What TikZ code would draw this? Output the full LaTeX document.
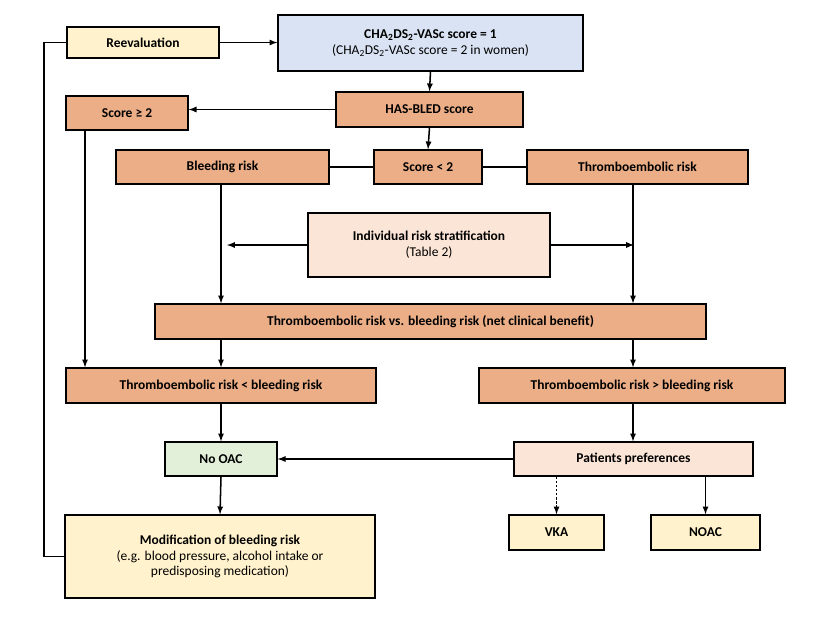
\documentclass[tikz,border=0pt]{standalone}
\usepackage{fontspec}
\setmainfont{Carlito}
\usetikzlibrary{calc}
\definecolor{orng}{HTML}{EBAE86}
\definecolor{blu}{HTML}{DAE3F3}
\definecolor{yel}{HTML}{FFF2CC}
\definecolor{grn}{HTML}{E2F0D9}
\definecolor{pch}{HTML}{FBE5D6}
\begin{document}
\begin{tikzpicture}[x=0.03cm,y=-0.03cm,
  box/.style={draw=black,line width=1.1pt,inner sep=0pt,align=center,font=\fontsize{11.5}{13.5}\selectfont},
  ob/.style={box,fill=orng,font=\fontsize{11.5}{13.5}\selectfont\bfseries},
  arr/.style={-latex,line width=1.3pt},
  ln/.style={line width=1.3pt}]
\useasboundingbox (0,0) rectangle (822,634);
\node[box,fill=yel,font=\fontsize{11.5}{13.5}\selectfont\bfseries,minimum width=4.56cm,minimum height=0.93cm] (re) at (143,42.5) {Reevaluation};
\node[box,fill=blu,minimum width=9.15cm,minimum height=1.68cm] (cha) at (430.5,43) {\textbf{CHA\textsubscript{2}DS\textsubscript{2}-VASc score = 1}\\(CHA\textsubscript{2}DS\textsubscript{2}-VASc score = 2 in women)};
\node[ob,minimum width=5.61cm,minimum height=1.05cm] (has) at (429.5,109.5) {HAS-BLED score};
\node[ob,minimum width=3.66cm,minimum height=1.02cm] (sge) at (127,113) {Score ≥ 2};
\node[ob,minimum width=6.39cm,minimum height=1.02cm] (bl) at (222.5,167) {Bleeding risk};
\node[ob,minimum width=3.24cm,minimum height=1.02cm] (slt) at (428,167) {Score < 2};
\node[ob,minimum width=6.63cm,minimum height=1.02cm] (th) at (637.5,167) {Thromboembolic risk};
\node[box,fill=pch,minimum width=7.26cm,minimum height=1.92cm] (ind) at (429,245) {\textbf{Individual risk stratification}\\(Table 2)};
\node[ob,minimum width=16.53cm,minimum height=1.05cm] (vs) at (430.5,321.5) {Thromboembolic risk vs. bleeding risk (net clinical benefit)};
\node[ob,minimum width=9.3cm,minimum height=1.05cm] (lt) at (221,385.5) {Thromboembolic risk < bleeding risk};
\node[ob,minimum width=9.18cm,minimum height=1.05cm] (gt) at (632,385.5) {Thromboembolic risk > bleeding risk};
\node[box,fill=grn,font=\fontsize{11.5}{13.5}\selectfont\bfseries,minimum width=3.36cm,minimum height=1.02cm] (no) at (221,459) {No OAC};
\node[box,fill=pch,font=\fontsize{11.5}{13.5}\selectfont\bfseries,minimum width=7.17cm,minimum height=1.02cm] (pat) at (633.5,459) {Patients preferences};
\node[box,fill=yel,font=\fontsize{11.5}{13.5}\selectfont\bfseries,minimum width=2.85cm,minimum height=1.05cm] (vka) at (556.5,532.5) {VKA};
\node[box,fill=yel,font=\fontsize{11.5}{13.5}\selectfont\bfseries,minimum width=3.27cm,minimum height=1.05cm] (noac) at (705.5,532.5) {NOAC};
\node[box,fill=yel,minimum width=9.3cm,minimum height=2.49cm] (mod) at (220,556.5) {\textbf{Modification of bleeding risk}\\(e.g. blood pressure, alcohol intake or\\predisposing medication)};
\coordinate (lx) at (44,0);
\draw[arr] (re.east) -- (re.east -| cha.west);
\draw[ln] (mod.west) -| (lx |- re.west) -- (re.west);
\draw[arr] (cha.south) -- (has.north);
\draw[arr] (has.west) -- (has.west -| sge.east);
\draw[arr] (has.south) -- (slt.north);
\draw[ln] (slt.west) -- (bl.east);
\draw[ln] (slt.east) -- (th.east -| th.west);
\coordinate (bx) at (221,0);
\coordinate (tx) at (633,0);
\draw[arr] (bx |- bl.south) -- (bx |- vs.north);
\draw[arr] (tx |- th.south) -- (tx |- vs.north);
\draw[arr] (ind.west) -- ($(bx |- ind.west)+(6,0)$);
\draw[arr] (ind.east) -- ($(tx |- ind.east)+(1,0)$);
\coordinate (sx) at (85,0);
\draw[arr] (sx |- sge.south) -- (sx |- lt.north);
\draw[arr] (bx |- vs.south) -- (bx |- lt.north);
\draw[arr] (tx |- vs.south) -- (tx |- gt.north);
\draw[arr] (lt.south) -- (no.north);
\draw[arr] (tx |- gt.south) -- (tx |- pat.north);
\draw[arr] (pat.west) -- (no.east);
\draw[arr,dashed,dash pattern=on 2pt off 1.5pt] (vka.north |- pat.south) -- (vka.north);
\draw[arr] (noac.north |- pat.south) -- (noac.north);
\draw[arr] (no.south) -- (mod.north);
\end{tikzpicture}
\end{document}
